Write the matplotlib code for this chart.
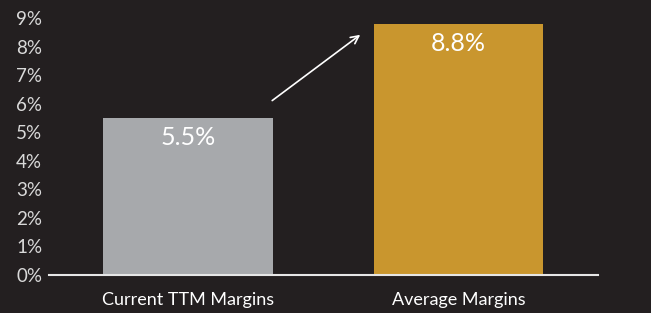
import matplotlib.pyplot as plt
from matplotlib.ticker import FuncFormatter

categories = ['Current TTM Margins', 'Average Margins']
margins = [5.5, 8.8]
bar_colors = ['#a7a9ac', '#c9962e']
yticks = list(range(0, 10))

bg = '#231f20'
plt.rcParams['font.family'] = ['Lato', 'DejaVu Sans']

fig = plt.figure(figsize=(6.51, 3.13), dpi=100, facecolor=bg)
ax = fig.add_axes([0.0753, 0.1214, 0.8433, 0.8211], facecolor=bg)

x = range(len(categories))
bars = ax.bar(x, margins, width=0.628, color=bar_colors)

for b, v in zip(bars, margins):
    ax.text(b.get_x() + b.get_width() / 2, v - 0.68, '%.1f%%' % v,
            ha='center', va='center', color='white', fontsize=18)

# arrow from the first bar towards the second
ax.annotate('', xy=(0.645, margins[1] - 0.33), xytext=(0.303, margins[0] + 0.55),
            arrowprops=dict(arrowstyle='->', color='white', lw=1.2,
                            mutation_scale=14))

ax.set_xlim(-0.514, 1.516)
ax.set_ylim(0, 9)
ax.set_yticks(yticks)
ax.yaxis.set_major_formatter(FuncFormatter(lambda v, p: '%d%%' % v))
ax.set_xticks(list(x))
ax.set_xticklabels(categories)

for s in ['top', 'right', 'left']:
    ax.spines[s].set_visible(False)
ax.spines['bottom'].set_color('#e6e6e6')
ax.spines['bottom'].set_linewidth(1.5)
ax.tick_params(axis='y', length=0, labelsize=13.5, labelcolor='#d9d9d9', pad=5)
ax.tick_params(axis='x', length=0, labelsize=13, labelcolor='white', pad=12)

fig.savefig('out.png', dpi=100, facecolor=bg)
